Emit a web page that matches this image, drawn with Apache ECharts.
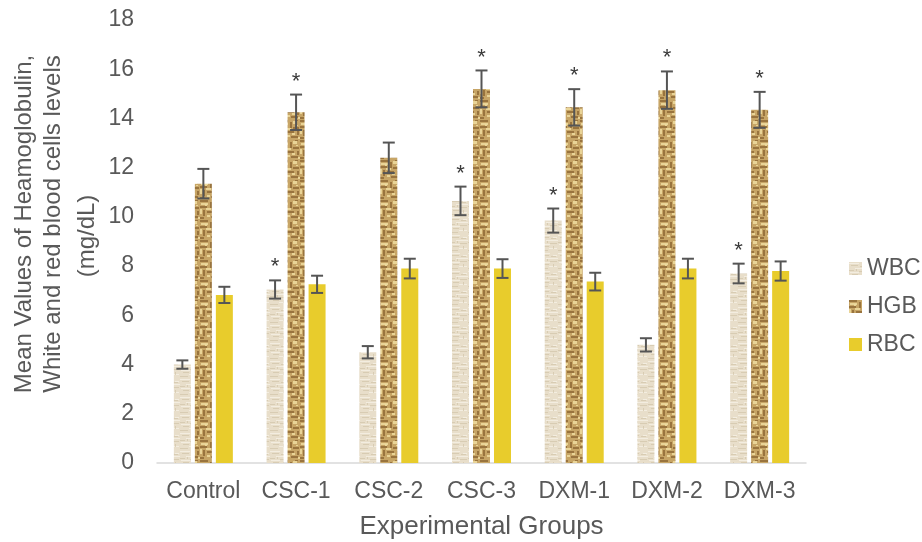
<!DOCTYPE html>
<html>
<head>
<meta charset="utf-8">
<script src="https://cdn.jsdelivr.net/npm/echarts@6/dist/echarts.min.js"></script>
<style>html,body{margin:0;padding:0;background:#fff}#c{width:922px;height:542px}</style>
</head>
<body>
<div id="c"></div>
<script>
// ---- data ----
const categories = ['Control','CSC-1','CSC-2','CSC-3','DXM-1','DXM-2','DXM-3'];
const seriesNames = ['WBC','HGB','RBC'];
const wbc    = [4.0, 7.05, 4.5, 10.65, 9.85, 4.8, 7.7];
const wbcErr = [0.17, 0.37, 0.25, 0.58, 0.49, 0.27, 0.4];
const hgb    = [11.35, 14.25, 12.4, 15.2, 14.45, 15.15, 14.35];
const hgbErr = [0.6, 0.72, 0.62, 0.75, 0.74, 0.76, 0.73];
const rbc    = [6.83, 7.26, 7.9, 7.9, 7.37, 7.9, 7.8];
const rbcErr = [0.33, 0.35, 0.4, 0.38, 0.36, 0.4, 0.39];
const wbcStar = [false, true, false, true, true, false, true];
const hgbStar = [false, true, false, true, true, true, true];
const rbcStar = [false, false, false, false, false, false, false];
const yTicks = {min: 0, max: 18, interval: 2};
const yTitleLines = ['Mean Values of Heamoglobulin,', 'White and red blood cells levels', '(mg/dL)'];
const xTitle = 'Experimental Groups';

// ---- textures ----
function tile(size, base, layers){
  const c = document.createElement('canvas'); c.width = size; c.height = size;
  const g = c.getContext('2d');
  g.fillStyle = base; g.fillRect(0,0,size,size);
  layers.forEach(L => {
    g.fillStyle = L[0]; g.globalAlpha = L[2] || 1;
    L[1].forEach(r => g.fillRect(r[0], r[1], r[2], r[3]));
  });
  g.globalAlpha = 1;
  return c;
}
const wbcTile = tile(18, '#E8DECA', [
  ['#F4EEE2', [[0,1,10,1],[6,6,12,1],[1,10,9,1],[9,14,8,1],[13,3,4,1]], 0.9],
  ['#D2C4A9', [[2,3,7,1],[11,4,5,1],[0,8,5,1],[10,9,7,1],[3,12,6,1],[0,16,8,1],[13,12,1,3],[7,7,1,2]], 0.7]
]);
const hgbTile = tile(20, '#C7A566', [
  ['#8A6431', [[0,0,8,2],[10,2,2,6],[0,6,7,2],[13,7,6,2],[3,10,2,6],[7,11,7,2],[0,17,4,2],[11,16,7,2],[17,11,2,4],[15,0,3,1]], 0.75],
  ['#EEDCA0', [[1,3,7,2],[13,1,4,3],[6,8,5,2],[0,9,2,5],[7,15,3,2],[12,13,3,2],[16,5,2,1],[5,4,2,2],[18,17,2,2]], 0.85]
]);
const wbcFill = {image: wbcTile, repeat: 'repeat'};
const hgbFill = {image: hgbTile, repeat: 'repeat'};
const rbcFill = '#E8CC2C';

const font = '"Liberation Sans", Arial, sans-serif';
const BAR_W = 17, GAP = 4;
function errSeries(idx, vals, errs, stars){
  return {
    type: 'custom', name: seriesNames[idx] + '-err', silent: true, z: 10,
    data: vals.map((v,i)=>[i, v, errs[i], stars[i] ? 1 : 0]),
    renderItem: function(params, api){
      const x0 = api.coord([api.value(0), 0])[0] + (idx - 1) * (BAR_W + GAP);
      const top = api.coord([api.value(0), api.value(1) + api.value(2)]);
      const bot = api.coord([api.value(0), api.value(1) - api.value(2)]);
      const st = {stroke: '#555555', lineWidth: 2};
      const ch = [
        {type:'line', shape:{x1:x0, y1:top[1], x2:x0, y2:bot[1]}, style:st},
        {type:'line', shape:{x1:x0-6, y1:top[1], x2:x0+6, y2:top[1]}, style:st},
        {type:'line', shape:{x1:x0-6, y1:bot[1], x2:x0+6, y2:bot[1]}, style:st}
      ];
      if (api.value(3)) ch.push({type:'text', style:{text:'*', x:x0, y:top[1]-2, textAlign:'center', textVerticalAlign:'bottom', fill:'#3A3A3A', font:'22px ' + font}});
      return {type:'group', children: ch};
    }
  };
}

const chart = echarts.init(document.getElementById('c'), null, {renderer: 'canvas'});
const yTitleX = [24, 53, 87];
const yTitleY = [224, 224, 236];
chart.setOption({
  animation: false,
  grid: {left: 157, right: 116, top: 20, bottom: 79, containLabel: false, outerBoundsMode: 'none'},
  legend: {
    orient: 'vertical', left: 844, top: 252, itemWidth: 13, itemHeight: 13, itemGap: 15,
    icon: 'rect',
    textStyle: {fontSize: 23, color: '#595959', fontFamily: font},
    data: seriesNames
  },
  graphic: yTitleLines.map((t, i) => ({
    type: 'text', x: yTitleX[i], y: yTitleY[i], rotation: Math.PI/2,
    style: {text: t, fill: '#595959', font: '24px ' + font, textAlign: 'center', textVerticalAlign: 'middle'}
  })),
  xAxis: {
    type: 'category', data: categories,
    name: xTitle, nameLocation: 'middle', nameGap: 51,
    nameTextStyle: {fontSize: 26, color: '#595959', fontFamily: font},
    axisLine: {lineStyle: {color: '#D9D9D9', width: 1.5}},
    axisTick: {show: false},
    axisLabel: {interval: 0, fontSize: 23, color: '#595959', fontFamily: font, margin: 17, hideOverlap: false}
  },
  yAxis: {
    type: 'value', min: yTicks.min, max: yTicks.max, interval: yTicks.interval,
    axisLine: {show: false}, axisTick: {show: false}, splitLine: {show: false},
    axisLabel: {fontSize: 23, color: '#595959', fontFamily: font, margin: 23}
  },
  series: [
    {type: 'bar', name: 'WBC', data: wbc, barWidth: BAR_W, barGap: (GAP/BAR_W*100)+'%', itemStyle: {color: wbcFill}},
    {type: 'bar', name: 'HGB', data: hgb, barWidth: BAR_W, barGap: (GAP/BAR_W*100)+'%', itemStyle: {color: hgbFill}},
    {type: 'bar', name: 'RBC', data: rbc, barWidth: BAR_W, barGap: (GAP/BAR_W*100)+'%', itemStyle: {color: rbcFill}},
    errSeries(0, wbc, wbcErr, wbcStar),
    errSeries(1, hgb, hgbErr, hgbStar),
    errSeries(2, rbc, rbcErr, rbcStar)
  ]
});
</script>
</body>
</html>
